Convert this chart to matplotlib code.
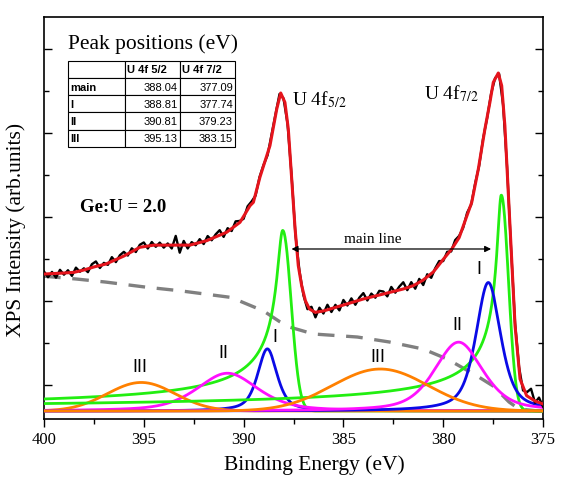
import numpy as np
import matplotlib
matplotlib.use('Agg')
import matplotlib.pyplot as plt
from matplotlib.ticker import MultipleLocator

plt.rcParams['font.family'] = ['Liberation Serif', 'DejaVu Serif']
plt.rcParams['mathtext.fontset'] = 'stix'

# ---------------- data ----------------
# peak table (eV)
peak_names = ['main', 'I', 'II', 'III']
pos_52 = [388.04, 388.81, 390.81, 395.13]
pos_72 = [377.09, 377.74, 379.23, 383.15]

# component amplitudes (arb. units above baseline)
amp_52 = [2.15, 0.74, 0.45, 0.34]
amp_72 = [2.57, 1.53, 0.82, 0.50]
# widths (eV): main -> low-BE gaussian sigma, I/II -> FWHM, III -> gaussian sigma
main_sigma = [0.42, 0.36]
main_tail = [0.25, 0.187]
main_tail_pow = 0.35
fwhm_I = [1.15, 1.47]
fwhm_II = [3.6, 2.86]
sigma_III = [1.7, 2.4]
eta_I = 0.6
eta_II = 0.5
comp_base = -0.305

# measured spectrum (0.2 eV steps, 400 -> 375 eV)
meas_E = np.round(np.arange(400.0, 374.99, -0.2), 1)
meas_I = [1.356, 1.288, 1.351, 1.283, 1.376, 1.318, 1.371, 1.304, 1.402, 1.353,
          1.394, 1.348, 1.443, 1.476, 1.398, 1.459, 1.435, 1.527, 1.468, 1.549,
          1.590, 1.546, 1.632, 1.588, 1.674, 1.702, 1.630, 1.707, 1.650, 1.700,
          1.640, 1.690, 1.630, 1.780, 1.580, 1.720, 1.630, 1.706, 1.668, 1.741,
          1.683, 1.778, 1.728, 1.798, 1.848, 1.768, 1.872, 1.838, 1.953, 1.958,
          1.983, 2.132, 2.190, 2.260, 2.482, 2.625, 2.740, 2.986, 3.230, 3.470,
          3.417, 3.117, 2.512, 1.787, 1.361, 1.071, 0.908, 0.936, 0.810, 0.925,
          0.856, 0.960, 0.874, 0.959, 0.893, 1.017, 0.951, 1.036, 0.960, 1.045,
          1.099, 1.011, 1.093, 1.044, 1.126, 1.118, 1.060, 1.172, 1.104, 1.176,
          1.228, 1.134, 1.229, 1.151, 1.268, 1.195, 1.323, 1.281, 1.395, 1.480,
          1.480, 1.590, 1.595, 1.730, 1.780, 1.876, 2.057, 2.150, 2.404, 2.614,
          2.940, 3.182, 3.474, 3.658, 3.710, 3.340, 2.599, 1.625, 0.741, 0.220,
          -0.060, -0.080, -0.040, -0.206, -0.145, -0.251]

# fitted envelope
fit_E = [400.0, 399.0, 398.5, 398.0, 397.5, 396.9, 396.0, 395.2, 394.5, 393.5,
         392.7, 391.85, 390.85, 390.18, 389.68, 389.51, 389.18, 388.68, 388.34, 388.14,
         387.93, 387.76, 387.59, 387.42, 387.26, 387.09, 386.9, 386.7, 386.42, 386.0,
         385.0, 384.0, 383.0, 382.0, 381.5, 381.0, 380.5, 380.33, 380.0, 379.57,
         379.2, 378.99, 378.57, 378.24, 377.91, 377.66, 377.49, 377.24, 377.07, 376.91,
         376.74, 376.57, 376.40, 376.15, 375.82, 375.4, 375.0]
fit_I = [1.326, 1.338, 1.346, 1.374, 1.410, 1.445, 1.540, 1.644, 1.670, 1.670,
         1.670, 1.723, 1.823, 1.942, 2.139, 2.180, 2.480, 2.854, 3.290, 3.481,
         3.370, 3.052, 2.457, 1.862, 1.425, 1.187, 1.005, 0.910, 0.870, 0.886,
         0.957, 1.029, 1.088, 1.148, 1.187, 1.255, 1.350, 1.400, 1.500, 1.624,
         1.760, 1.901, 2.180, 2.576, 3.052, 3.370, 3.608, 3.719, 3.568, 3.092,
         2.299, 1.505, 0.711, 0.076, -0.123, -0.186, -0.221]

# Shirley-type background
bg_E = [400.0, 398.4, 396.9, 394.9, 393.2, 390.68, 390.2, 389.0, 388.2, 387.7,
        386.5, 384.3, 382.7, 381.0, 379.8, 378.3, 377.5, 376.7, 376.2, 375.0]
bg_I = [1.30, 1.267, 1.23, 1.17, 1.127, 1.049, 1.005, 0.886, 0.76, 0.695,
        0.612, 0.576, 0.517, 0.433, 0.314, 0.112, -0.007, -0.198, -0.281, -0.31]

# ---------------- model functions ----------------
E = np.linspace(375, 400, 2001)


def main_line(c, h, sig, a):
    d = E - c
    out = np.where(d >= 0, (1 + (d / a) ** 2) ** (-main_tail_pow),
                   np.exp(-d ** 2 / (2 * sig ** 2)))
    return comp_base + h * out


def pvoigt(c, h, F, eta):
    u = (E - c) / F
    return comp_base + h * (eta / (1 + 4 * u ** 2) + (1 - eta) * np.exp(-4 * np.log(2) * u ** 2))


def gauss(c, h, s):
    return comp_base + h * np.exp(-(E - c) ** 2 / (2 * s ** 2))


# ---------------- figure ----------------
fig = plt.figure(figsize=(5.61, 4.85), dpi=100)
ax = fig.add_axes([44 / 561, 1 - 420 / 485, 499 / 561, 402 / 485])

ax.plot(bg_E, bg_I, color='#808080', lw=2.4, ls=(0, (5, 3.5)), zorder=2)

green = '#22ee11'
blue = '#0a0ae6'
magenta = '#ff10ff'
orange = '#ff8000'
for k in range(2):
    pos = [pos_52, pos_72][k]
    amp = [amp_52, amp_72][k]
    ax.plot(E, main_line(pos[0], amp[0], main_sigma[k], main_tail[k]), color=green, lw=2, zorder=3)
    ax.plot(E, pvoigt(pos[1], amp[1], fwhm_I[k], eta_I), color=blue, lw=2, zorder=3)
    ax.plot(E, pvoigt(pos[2], amp[2], fwhm_II[k], eta_II), color=magenta, lw=2, zorder=3)
    ax.plot(E, gauss(pos[3], amp[3], sigma_III[k]), color=orange, lw=2, zorder=3)

ax.plot(meas_E, meas_I, color='black', lw=1.7, zorder=4)
ax.plot(fit_E, fit_I, color='#e5141c', lw=2.2, zorder=5)

ax.set_xlim(400, 375)
ax.set_ylim(-0.4, 4.386)
ax.xaxis.set_major_locator(MultipleLocator(5))
ax.xaxis.set_minor_locator(MultipleLocator(2.5))
ax.yaxis.set_major_locator(MultipleLocator(1))
ax.yaxis.set_minor_locator(MultipleLocator(0.5))
ax.tick_params(axis='x', which='major', direction='out', length=6, width=1, labelsize=12, pad=3)
ax.tick_params(axis='x', which='minor', direction='out', length=3.5, width=1)
ax.tick_params(axis='y', which='major', direction='in', length=6, width=1, left=True, right=True,
               labelleft=False)
ax.tick_params(axis='y', which='minor', direction='in', length=3.5, width=1, left=True, right=True)
for sp in ax.spines.values():
    sp.set_linewidth(1.2)

ax.set_xlabel('Binding Energy (eV)', fontsize=15.5)
ax.set_ylabel('XPS Intensity (arb.units)', fontsize=15.5)
ax.xaxis.set_label_coords(0.541, -0.088)
ax.yaxis.set_label_coords(-0.036, 0.473)

# annotations
ax.text(387.58, 3.41, r'U 4f$_{5/2}$', fontsize=14, va='center', ha='left')
ax.text(380.96, 3.49, r'U 4f$_{7/2}$', fontsize=14, va='center', ha='left')
ax.text(383.55, 1.75, 'main line', fontsize=11, ha='center', va='center')
ax.annotate('', xy=(387.6, 1.624), xytext=(377.6, 1.624),
            arrowprops=dict(arrowstyle='<|-|>', color='black', lw=0.9,
                            mutation_scale=9, shrinkA=0, shrinkB=0), zorder=6)
ax.text(398.2, 2.13, 'Ge:U = 2.0', fontsize=13.5, fontweight='bold', ha='left', va='center')

sans = ['Liberation Sans', 'DejaVu Sans']
labels_pos = [(395.19, 0.22, 'III'), (391.03, 0.39, 'II'), (388.43, 0.58, 'I'),
              (383.27, 0.35, 'III'), (379.31, 0.73, 'II'), (378.21, 1.39, 'I')]
for x, y, t in labels_pos:
    ax.text(x, y, t, fontsize=13, family=sans, ha='center', va='center')

# peak table
ax.text(0.048, 0.935, 'Peak positions (eV)', transform=ax.transAxes, fontsize=15.5,
        ha='left', va='center')
cell_text = [['', 'U 4f 5/2', 'U 4f 7/2']]
for n, a, b in zip(peak_names, pos_52, pos_72):
    cell_text.append([n, f'{a:.2f}', f'{b:.2f}'])
tbl = ax.table(cellText=cell_text, bbox=[0.048, 0.677, 0.335, 0.214],
               colWidths=[57, 55, 55], zorder=7)
tbl.auto_set_font_size(False)
for (r, c), cell in tbl.get_celld().items():
    cell.set_linewidth(0.8)
    cell.PAD = 0.04
    txt = cell.get_text()
    txt.set_fontsize(8)
    txt.set_fontfamily(sans)
    if r == 0 or c == 0:
        txt.set_fontweight('bold')
        cell._loc = 'left'
        txt.set_ha('left')
    else:
        cell._loc = 'right'
        txt.set_ha('right')

fig.savefig('out.png', dpi=100)
